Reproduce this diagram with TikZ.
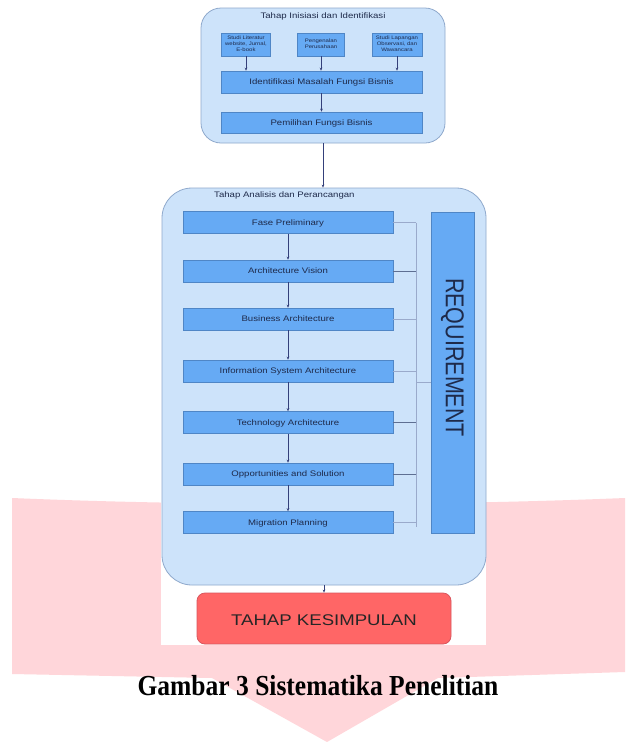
\documentclass[tikz,border=0pt]{standalone}
\usepackage{fontspec}
\setmainfont{Liberation Sans}
\newfontfamily\capfont{Liberation Serif}
\usetikzlibrary{arrows.meta,calc}
\definecolor{grpfill}{HTML}{CDE3FA}
\definecolor{grpdraw}{HTML}{8FA9CC}
\definecolor{boxfill}{HTML}{66AAF4}
\definecolor{boxdraw}{HTML}{4F86C6}
\definecolor{txt}{HTML}{1E2A4A}
\definecolor{arr}{HTML}{34407A}
\definecolor{busdark}{HTML}{5E6F92}
\definecolor{buslight}{HTML}{9AAACB}
\definecolor{pinkbg}{HTML}{FFD6DA}
\definecolor{redbox}{HTML}{FF6666}
\definecolor{redline}{HTML}{D9565E}
\newcommand{\sx}[1]{\scalebox{1.2}[1]{#1}}
\begin{document}
\begin{tikzpicture}[x=1pt,y=-1pt,
 grp/.style={draw=grpdraw, fill=grpfill, line width=0.8pt, inner sep=0pt},
 boxbase/.style={draw=boxdraw, fill=boxfill, line width=0.6pt, inner sep=0pt, text=txt},
 stepbox/.style={boxbase, font=\fontsize{8}{9}\selectfont, text depth=0pt},
 smallbox/.style={boxbase, minimum width=49pt, minimum height=23pt, font=\fontsize{5}{5.8}\selectfont},
 flow/.style={draw=arr, line width=0.6pt, -{Stealth[length=3pt,width=2.6pt]}},
 busd/.style={draw=busdark, line width=0.7pt},
 busl/.style={draw=buslight, line width=0.7pt},
 ttl/.style={text=txt, inner sep=0pt, font=\fontsize{8}{9}\selectfont},
]
\useasboundingbox (0,0) rectangle (625,742);
\fill[white] (0,0) rectangle (625,742);
% pink background arrow
\fill[pinkbg] (12,498) .. controls (200,506) and (430,506) .. (625,498) -- (625,672)
  -- (438,678) -- (327,742) -- (212,678) -- (12,674) -- cycle;
\fill[white] (161,485) rectangle (486,645);

% ---- group 1
\node[grp, rounded corners=20pt, minimum width=244pt, minimum height=135pt] (g1) at (323,75.5) {};
\node[ttl] (t1) at (323,16) {\sx{Tahap Inisiasi dan Identifikasi}};
\node[smallbox] (b1) at (246,44.5) {\sx{\begin{tabular}{@{}c@{}}Studi Literatur\\website, Jurnal,\\E-book\end{tabular}}};
\node[smallbox, minimum width=47pt] (b2) at (321,44.5) {\sx{\begin{tabular}{@{}c@{}}Pengenalan\\Perusahaan\end{tabular}}};
\node[smallbox, minimum width=50pt] (b3) at (397,44.5) {\sx{\begin{tabular}{@{}c@{}}Studi Lapangan\\Observasi, dan\\Wawancara\end{tabular}}};
\node[stepbox, minimum width=201pt, minimum height=22pt] (ib) at (321.5,82) {\sx{Identifikasi Masalah Fungsi Bisnis}};
\node[stepbox, minimum width=201pt, minimum height=21pt] (pb) at (321.5,122.5) {\sx{Pemilihan Fungsi Bisnis}};
\draw[flow] (b1.south) -- (b1.south |- ib.north);
\draw[flow] (b2.south) -- (b2.south |- ib.north);
\draw[flow] (b3.south) -- (b3.south |- ib.north);
\draw[flow] (ib) -- (pb);

% ---- group 2
\node[grp, rounded corners=30pt, minimum width=324pt, minimum height=397pt] (g2) at (324,386.5) {};
\node[ttl, anchor=west] (t2) at (214,195) {\sx{Tahap Analisis dan Perancangan}};
\draw[flow] (g1.south) -- (g1.south |- g2.north);

\node[stepbox, minimum width=210pt, minimum height=22pt] (s1) at (288,222.5) {\sx{Fase Preliminary}};
\node[stepbox, minimum width=210pt, minimum height=22pt] (s2) at (288,271) {\sx{Architecture Vision}};
\node[stepbox, minimum width=210pt, minimum height=22pt] (s3) at (288,319) {\sx{Business Architecture}};
\node[stepbox, minimum width=210pt, minimum height=22pt] (s4) at (288,371) {\sx{Information System Architecture}};
\node[stepbox, minimum width=210pt, minimum height=22pt] (s5) at (288,422.5) {\sx{Technology Architecture}};
\node[stepbox, minimum width=210pt, minimum height=22pt] (s6) at (288,474) {\sx{Opportunities and Solution}};
\node[stepbox, minimum width=210pt, minimum height=22pt] (s7) at (288,522.5) {\sx{Migration Planning}};
\foreach \a/\b in {s1/s2,s2/s3,s3/s4,s4/s5,s5/s6,s6/s7} \draw[flow] (\a) -- (\b);

\node[boxbase, minimum width=43pt, minimum height=321pt] (req) at (452.5,372.5) {};
\node[text=txt, rotate=-90, inner sep=0pt, font=\fontsize{21.5}{22}\selectfont] (reqt) at (452.5,357.5) {\scalebox{1}[1.2]{REQUIREMENT}};

\coordinate (bt) at (416,222.5);
\coordinate (bb) at (416,527);
\coordinate (bj) at (416,382);
\draw[busl] (bt) -- (bb);
\draw[busl] (s1.east) -- (s1.east -| bt);
\draw[busd] (s2.east) -- (s2.east -| bt);
\draw[busl] (s3.east) -- (s3.east -| bt);
\draw[busl] (s4.east) -- (s4.east -| bt);
\draw[busd] (s5.east) -- (s5.east -| bt);
\draw[busd] (s6.east) -- (s6.east -| bt);
\draw[busl] (s7.east) -- (s7.east -| bt);
\draw[busl] (bj) -- (bj -| req.west);

% ---- conclusion
\node[draw=redline, fill=redbox, line width=0.8pt, rounded corners=8pt, minimum width=254pt, minimum height=51pt, inner sep=0pt] (fin) at (324,618.5) {};
\node[text=black!85, inner sep=0pt, font=\fontsize{15.5}{16}\selectfont] (fint) at (324,620.5) {\sx{TAHAP KESIMPULAN}};
\draw[flow] (g2.south) -- (fin.north);

% ---- caption
\node[inner sep=0pt, font=\capfont\bfseries\fontsize{29}{30}\selectfont] (cap) at (318,686) {\scalebox{0.88}[1]{Gambar 3 Sistematika Penelitian}};
\end{tikzpicture}
\end{document}
